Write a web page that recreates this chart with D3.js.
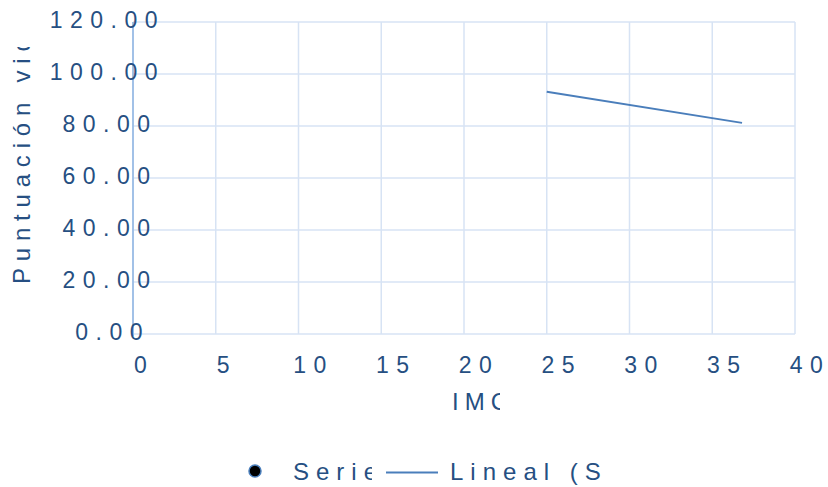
<!DOCTYPE html>
<html>
<head>
<meta charset="utf-8">
<script src="https://cdn.jsdelivr.net/npm/d3@7"></script>
<style>
  html, body { margin: 0; padding: 0; background: #fff; }
  svg text { font-family: "Liberation Sans", Arial, sans-serif; fill: #264f82; }
</style>
</head>
<body>
<svg id="chart" width="828" height="487"></svg>
<script>
// axis ticks
const xTicks = [0, 5, 10, 15, 20, 25, 30, 35, 40];
const yTicks = [0, 20, 40, 60, 80, 100, 120];
// linear trendline of Serie1 (endpoints)
const trendX = [25, 36.8];
const trendY = [93.2, 81.2];
const xTitle = "IMC";
const yTitle = "Puntuación vida";
const legendNames = ["Serie1", "Lineal (Serie1)"];

const svg = d3.select("#chart");
const plot = { left: 133, right: 795, top: 22, bottom: 334 };

const x = d3.scaleLinear().domain([0, 40]).range([plot.left, plot.right]);
const y = d3.scaleLinear().domain([0, 120]).range([plot.bottom, plot.top]);

const defs = svg.append("defs");
function clip(id, x0, y0, w, h) {
  defs.append("clipPath").attr("id", id)
    .append("rect").attr("x", x0).attr("y", y0).attr("width", w).attr("height", h);
  return `url(#${id})`;
}

// gridlines
const grid = svg.append("g").attr("stroke", "#d7e3f4").attr("stroke-width", 1.5);
grid.selectAll("line.v").data(xTicks).enter().append("line")
  .attr("x1", d => x(d)).attr("x2", d => x(d))
  .attr("y1", plot.top).attr("y2", plot.bottom);
grid.selectAll("line.h").data(yTicks).enter().append("line")
  .attr("x1", plot.left).attr("x2", plot.right)
  .attr("y1", d => y(d)).attr("y2", d => y(d));

// y axis line
svg.append("line")
  .attr("x1", plot.left).attr("x2", plot.left)
  .attr("y1", plot.top).attr("y2", plot.bottom + 2)
  .attr("stroke", "#8db3e2").attr("stroke-width", 1.5);

// place text: natural width first, then widen with letter spacing
function spaced(sel, size, ls, anchorX, align) {
  sel.style("font-size", size + "px").attr("letter-spacing", 0);
  sel.each(function (d) {
    const w = this.getComputedTextLength();
    const a = anchorX(d);
    d3.select(this).attr("x", align === "end" ? a - w : a - w / 2);
  });
  sel.attr("letter-spacing", ls);
}

// x tick labels
const xl = svg.append("g").selectAll("text").data(xTicks).enter().append("text")
  .attr("y", 373).text(d => d);
spaced(xl, 23, 7.5, d => x(d) + 7.5, "middle");

// y tick labels
const yl = svg.append("g").selectAll("text").data(yTicks).enter().append("text")
  .attr("y", d => y(d) + 6).text(d => d.toFixed(2));
spaced(yl, 23, 7.5, () => 120, "end");

// trendline
svg.append("path")
  .datum(trendX.map((v, i) => [v, trendY[i]]))
  .attr("fill", "none").attr("stroke", "#4a7ebb").attr("stroke-width", 2)
  .attr("d", d3.line().x(d => x(d[0])).y(d => y(d[1])));

// axis titles (clipped like the source)
svg.append("text")
  .attr("x", 452).attr("y", 410)
  .attr("clip-path", clip("cx", 440, 380, 60, 40))
  .style("font-size", "24px").attr("letter-spacing", 6)
  .text(xTitle);

svg.append("g").attr("clip-path", clip("cy", 0, 47, 60, 300))
  .append("text")
  .attr("transform", "translate(29.5,284) rotate(-90)")
  .style("font-size", "24px").attr("letter-spacing", 6.8)
  .text(yTitle);

// legend
const lg = svg.append("g");
lg.append("circle").attr("cx", 255).attr("cy", 471).attr("r", 6)
  .attr("fill", "#000").attr("stroke", "#4a7ebb").attr("stroke-width", 1.5);
lg.append("text").attr("x", 293).attr("y", 480)
  .attr("clip-path", clip("cl1", 285, 450, 87, 40))
  .style("font-size", "24px").attr("letter-spacing", 7)
  .text(legendNames[0]);
lg.append("line").attr("x1", 386).attr("x2", 438).attr("y1", 472.5).attr("y2", 472.5)
  .attr("stroke", "#4a7ebb").attr("stroke-width", 2);
lg.append("text").attr("x", 450).attr("y", 480)
  .attr("clip-path", clip("cl2", 445, 450, 162, 40))
  .style("font-size", "24px").attr("letter-spacing", 7)
  .text(legendNames[1]);
</script>
</body>
</html>
